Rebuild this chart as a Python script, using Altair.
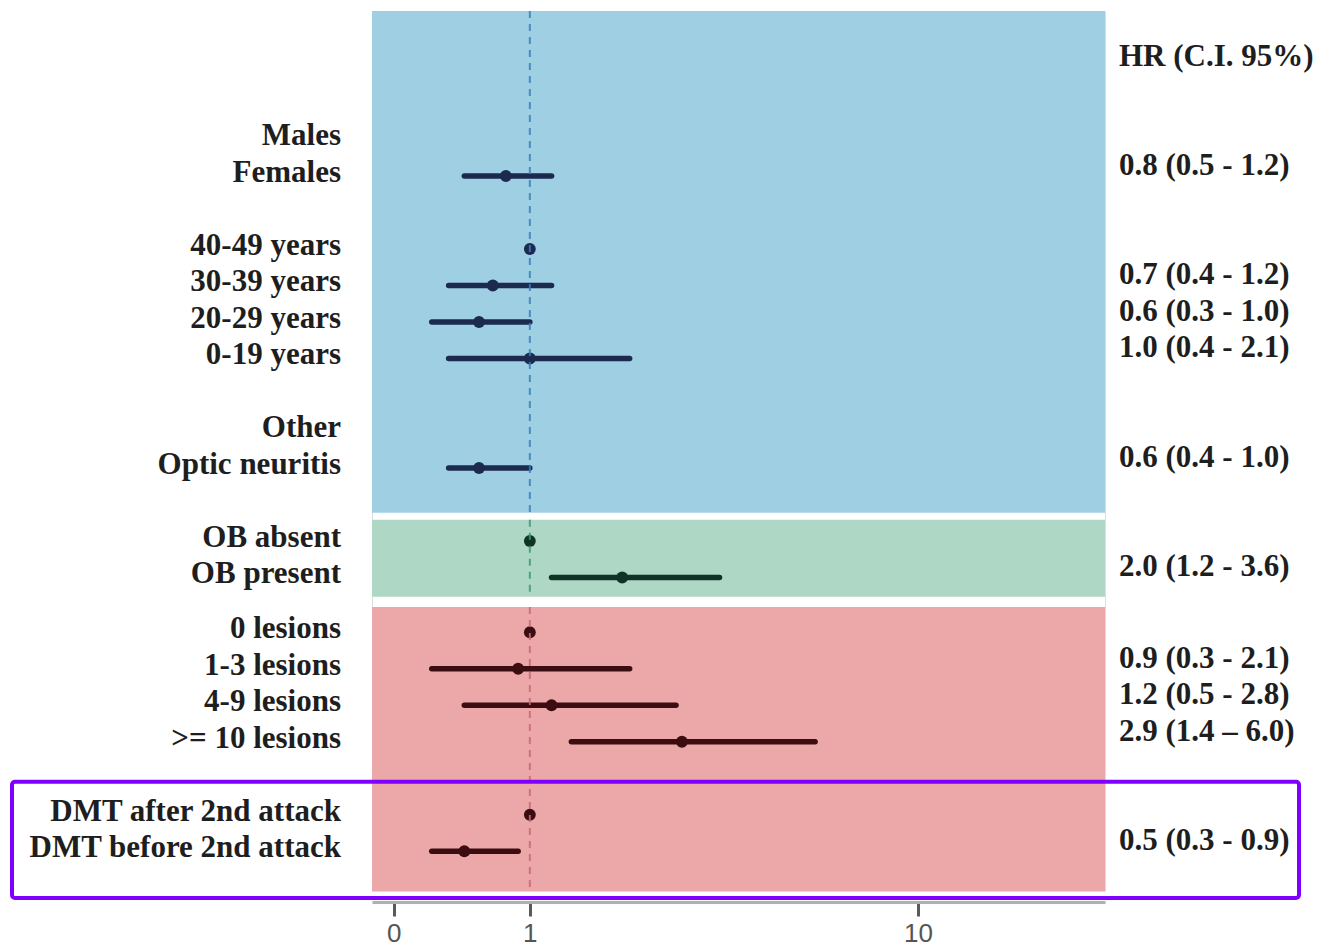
import altair as alt
import pandas as pd

# ---- data -------------------------------------------------------------
labels = [
    "Males", "Females",
    "40-49 years", "30-39 years", "20-29 years", "0-19 years",
    "Other", "Optic neuritis",
    "OB absent", "OB present",
    "0 lesions", "1-3 lesions", "4-9 lesions", ">= 10 lesions",
    "DMT after 2nd attack", "DMT before 2nd attack",
]
# vertical slot of each row (blank slots separate the groups)
rows = [-1, 0, 2, 3, 4, 5, 7, 8, 10, 11, 12.5, 13.5, 14.5, 15.5, 17.5, 18.5]
panel = (["Clinical"] * 8) + (["CSF"] * 2) + (["MRI & therapy"] * 6)
hr = [None, 0.8, 1.0, 0.7, 0.6, 1.0, None, 0.6, 1.0, 2.0, 1.0, 0.9, 1.2, 2.9, 1.0, 0.5]
lo = [None, 0.5, None, 0.4, 0.3, 0.4, None, 0.4, None, 1.2, None, 0.3, 0.5, 1.4, None, 0.3]
hi = [None, 1.2, None, 1.2, 1.0, 2.1, None, 1.0, None, 3.6, None, 2.1, 2.8, 6.0, None, 0.9]
ci_sep = ["-"] * 13 + ["\u2013"] + ["-"] * 2

panel_names = ["Clinical", "CSF", "MRI & therapy"]
panel_top = [-4.52, 9.42, 11.81]
panel_bottom = [9.23, 11.53, 19.59]
panel_fill = ["#9ecfe3", "#aed7c5", "#eca7a9"]
panel_ink = ["#1b2a4e", "#0f3326", "#3b0d10"]
panel_dash = ["#3a7fb8", "#3c9878", "#c66a78"]

x_domain = [0, 24]
y_domain = [-4.52, 19.59]
tick_values = [0.1, 1, 10]

# ---- tables -------------------------------------------------------------
df = pd.DataFrame({"label": labels, "row": rows, "panel": panel,
                   "hr": hr, "lo": lo, "hi": hi, "sep": ci_sep})
est = df.dropna(subset=["hr"]).copy()
ci = df.dropna(subset=["lo"]).copy()
ci["hr_text"] = [f"{h:.1f} ({l:.1f} {s} {u:.1f})"
                 for h, l, u, s in zip(ci["hr"], ci["lo"], ci["hi"], ci["sep"])]

panels = pd.DataFrame({"panel": panel_names, "top": panel_top,
                       "bottom": panel_bottom,
                       "x0": [x_domain[0]] * 3, "x1": [x_domain[1]] * 3,
                       "ref": [1] * 3})

# ---- scales / axes ------------------------------------------------------
W, H = 733, 880
x_scale = alt.Scale(type="symlog", constant=1, domain=x_domain, nice=False, zero=False)
y_scale = alt.Scale(domain=y_domain, reverse=True, nice=False, zero=False)
x_axis = alt.Axis(
    values=tick_values, title=None, grid=False,
    labelExpr="datum.value < 0.5 ? '0' : format(datum.value, 'd')",
    labelFont="Liberation Sans", labelFontSize=26, labelColor="#555555",
    labelPadding=4, tickColor="#5a5a5a", tickWidth=3, tickSize=14,
    domainColor="#b0b0b0", domainWidth=3, offset=11,
)
fill_scale = alt.Scale(domain=panel_names, range=panel_fill)
ink_scale = alt.Scale(domain=panel_names, range=panel_ink)
dash_scale = alt.Scale(domain=panel_names, range=panel_dash)

serif = dict(font="Liberation Serif", fontWeight="bold", fontSize=31, color="#1e1e1e")

bg = alt.Chart(panels).mark_rect().encode(
    x=alt.X("x0:Q", scale=x_scale, axis=x_axis),
    x2="x1:Q",
    y=alt.Y("top:Q", scale=y_scale, axis=None),
    y2="bottom:Q",
    fill=alt.Fill("panel:N", scale=fill_scale, legend=None),
)

ci_lines = alt.Chart(ci).mark_rule(strokeWidth=5.5, strokeCap="round").encode(
    x=alt.X("lo:Q", scale=x_scale, axis=x_axis),
    x2="hi:Q",
    y=alt.Y("row:Q", scale=y_scale, axis=None),
    color=alt.Color("panel:N", scale=ink_scale, legend=None),
)

points = alt.Chart(est).mark_circle(size=140, opacity=1).encode(
    x=alt.X("hr:Q", scale=x_scale, axis=x_axis),
    y=alt.Y("row:Q", scale=y_scale, axis=None),
    color=alt.Color("panel:N", scale=ink_scale, legend=None),
)

ref_line = alt.Chart(panels).mark_rule(strokeWidth=2, strokeDash=[7, 6], opacity=0.85).encode(
    x=alt.X("ref:Q", scale=x_scale, axis=x_axis),
    y=alt.Y("top:Q", scale=y_scale, axis=None),
    y2="bottom:Q",
    color=alt.Color("panel:N", scale=dash_scale, legend=None),
)

row_labels = alt.Chart(df).mark_text(align="right", baseline="middle", dy=-3, **serif).encode(
    x=alt.value(-31),
    y=alt.Y("row:Q", scale=y_scale, axis=None),
    text="label:N",
)

hr_labels = alt.Chart(ci).mark_text(align="left", baseline="middle", dy=-10, **serif).encode(
    x=alt.value(W + 14),
    y=alt.Y("row:Q", scale=y_scale, axis=None),
    text="hr_text:N",
)

header = alt.Chart(pd.DataFrame({"t": ["HR (C.I. 95%)"]})).mark_text(
    align="left", baseline="middle", **serif).encode(
    x=alt.value(W + 14), y=alt.value(46), text="t:N",
)

# highlight frame around the treatment rows
frame = alt.Chart(pd.DataFrame({"top": [16.6], "bottom": [19.78]})).mark_rect(
    fill=None, stroke="#8000ff", strokeWidth=4, cornerRadius=3).encode(
    x=alt.value(-360), x2=alt.value(927),
    y=alt.Y("top:Q", scale=y_scale, axis=None),
    y2="bottom:Q",
)

chart = alt.layer(
    bg, ci_lines, points, ref_line, row_labels, hr_labels, header, frame
).resolve_scale(color="independent").properties(
    width=W, height=H,
    padding={"left": 10, "top": 10, "right": 0, "bottom": 0},
).configure_view(stroke=None).configure(background="white")

chart.save("out.html", embed_options={"renderer": "svg", "actions": False})
